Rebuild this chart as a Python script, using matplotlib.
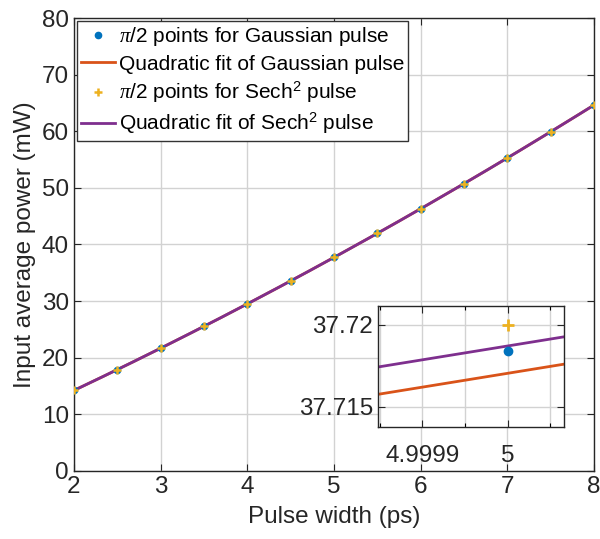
import numpy as np
import matplotlib
matplotlib.use('Agg')
import matplotlib.pyplot as plt
from matplotlib.ticker import MultipleLocator

# ─── Data ────────────────────────────────────────────────────────────
pulse_width = [2.0, 2.5, 3.0, 3.5, 4.0, 4.5, 5.0, 5.5, 6.0, 6.5, 7.0, 7.5, 8.0]
gauss_points = [14.23, 17.91, 21.68, 25.55, 29.51, 33.57, 37.7184,
                41.97, 46.31, 50.75, 55.28, 59.91, 64.63]
sech_points = [14.23, 17.91, 21.68, 25.55, 29.51, 33.57, 37.7200,
               41.97, 46.31, 50.75, 55.28, 59.91, 64.63]
# quadratic fit coefficients (a, b, c) for y = a x^2 + b x + c
gauss_fit = [0.19, 6.5, 0.46704]
sech_fit = [0.19, 6.5, 0.4687]

legend_labels = [r'$\pi$/2 points for Gaussian pulse',
                 'Quadratic fit of Gaussian pulse',
                 r'$\pi$/2 points for Sech$^{2}$ pulse',
                 r'Quadratic fit of Sech$^{2}$ pulse']

# ─── Style ───────────────────────────────────────────────────────────
plt.rcParams['font.family'] = ['Liberation Sans', 'DejaVu Sans']
plt.rcParams['mathtext.fontset'] = 'custom'
plt.rcParams['mathtext.rm'] = 'Liberation Sans'
plt.rcParams['mathtext.it'] = 'Liberation Serif:italic'
plt.rcParams['mathtext.sf'] = 'Liberation Sans'

c_blue = '#0072BD'
c_orange = '#D95319'
c_yellow = '#EDB120'
c_purple = '#7E2F8E'
c_axis = '#262626'

x_fit = np.linspace(2, 8, 601)


def style_axes(ax, fs):
    ax.tick_params(direction='in', top=True, right=True, labelsize=fs,
                   colors=c_axis, length=5, width=0.8)
    ax.tick_params(which='minor', direction='in', top=True, right=True,
                   length=3, width=0.8)
    for s in ax.spines.values():
        s.set_color(c_axis)
        s.set_linewidth(1.0)
    ax.grid(True, which='both', color='#d2d2d2', linewidth=1.0)
    ax.set_axisbelow(True)


fig = plt.figure(figsize=(6.0, 5.39), dpi=100)
ax = fig.add_axes([0.1233, 0.1262, 0.8667, 0.8404])

ax.plot(pulse_width, gauss_points, 'o', color=c_blue, ms=4.5,
        label=legend_labels[0], zorder=3)
ax.plot(x_fit, np.polyval(gauss_fit, x_fit), '-', color=c_orange, lw=2,
        label=legend_labels[1], zorder=2)
ax.plot(pulse_width, sech_points, '+', color=c_yellow, ms=6, mew=1.8,
        label=legend_labels[2], zorder=4)
ax.plot(x_fit, np.polyval(sech_fit, x_fit), '-', color=c_purple, lw=2,
        label=legend_labels[3], zorder=2)

ax.set_xlim(2, 8)
ax.set_ylim(0, 80)
ax.xaxis.set_major_locator(MultipleLocator(1))
ax.yaxis.set_major_locator(MultipleLocator(10))
style_axes(ax, 17.5)
ax.set_xlabel('Pulse width (ps)', fontsize=17.5, color=c_axis, labelpad=6)
ax.set_ylabel('Input average power (mW)', fontsize=17.5, color=c_axis,
              labelpad=4)

leg = ax.legend(loc='upper left', fontsize=15, frameon=True, fancybox=False,
                framealpha=1, edgecolor='#333333', handlelength=1.6,
                handletextpad=0.2, borderpad=0.2, labelspacing=0.3,
                borderaxespad=0.15)
leg.get_frame().set_linewidth(1.0)

# ─── Inset zoom around x = 5 ─────────────────────────────────────────
axin = fig.add_axes([0.63, 0.2078, 0.31, 0.2245])
axin.plot(pulse_width, gauss_points, 'o', color=c_blue, ms=6, zorder=3)
axin.plot(x_fit, np.polyval(gauss_fit, x_fit), '-', color=c_orange, lw=2)
axin.plot(pulse_width, sech_points, '+', color=c_yellow, ms=8, mew=2,
          zorder=4)
axin.plot(x_fit, np.polyval(sech_fit, x_fit), '-', color=c_purple, lw=2)
axin.set_xlim(4.999848, 5.0000662)
axin.set_ylim(37.71378, 37.72113)
axin.set_xticks([4.9999, 5.0])
axin.set_xticklabels(['4.9999', '5'])
axin.set_xticks([4.99985, 4.99995, 5.00005], minor=True)
axin.set_yticks([37.715, 37.72])
axin.set_yticklabels(['37.715', '37.72'])
style_axes(axin, 17.5)
axin.tick_params(axis='x', pad=13)

fig.savefig('out.png', dpi=100)
